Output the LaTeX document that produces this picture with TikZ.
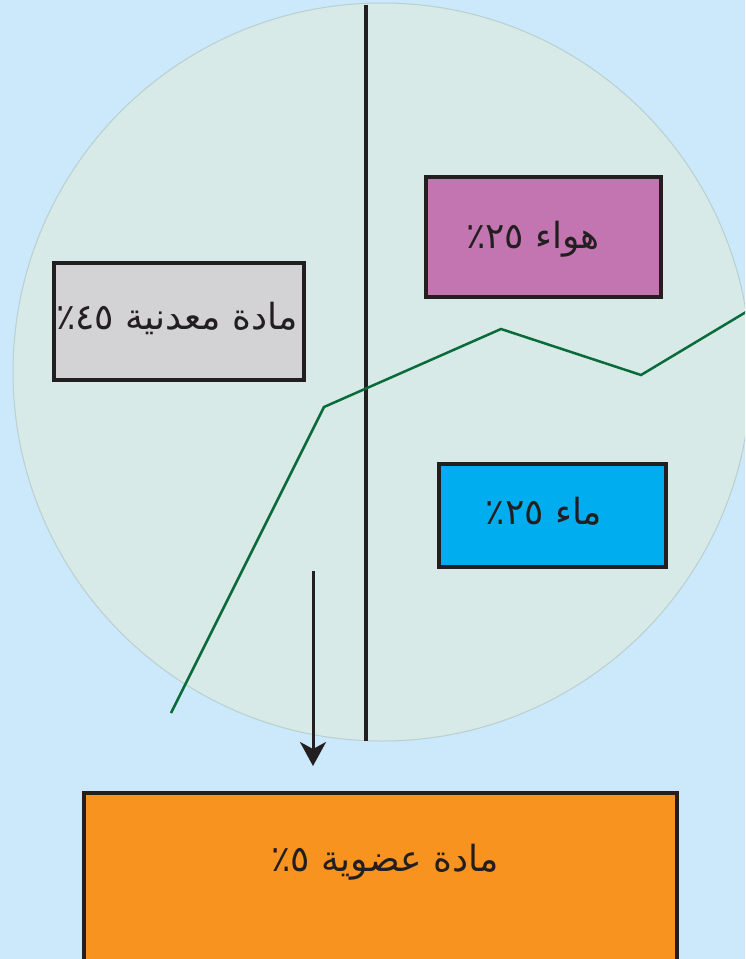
\documentclass[tikz,border=0pt]{standalone}
\usepackage{fontspec}
\usetikzlibrary{arrows.meta}
\TeXXeTstate=1
\newfontfamily\arabicfont[Script=Arabic]{DejaVu Sans}
\definecolor{bgblue}{HTML}{CBE9FA}
\definecolor{circfill}{HTML}{D7EAE7}
\definecolor{circedge}{HTML}{B9CFD0}
\definecolor{inkdark}{HTML}{231F20}
\definecolor{airpink}{HTML}{C275B0}
\definecolor{mingray}{HTML}{D3D3D5}
\definecolor{watercyan}{HTML}{00AEEF}
\definecolor{orgorange}{HTML}{F7931E}
\definecolor{linegreen}{HTML}{0A6B3A}
\tikzset{
  box/.style={draw=inkdark, line width=4pt, inner sep=0pt},
  lbl/.style={font=\arabicfont\fontsize{36}{42}\selectfont, text=inkdark, inner sep=0pt},
}
\begin{document}
\begin{tikzpicture}[x=1pt,y=-1pt]
\clip (0,0) rectangle (745,959);
\fill[bgblue] (0,0) rectangle (745,959);
\filldraw[fill=circfill, draw=circedge, line width=1pt] (382,372) circle[radius=369];
% vertical divider
\coordinate (vtop) at (366,5);
\coordinate (vbot) at (366,741);
\draw[inkdark, line width=3.5pt] (vtop) -- (vbot);
% green line
\coordinate (g1) at (171,713);
\coordinate (g2) at (324,407);
\coordinate (g3) at (501,329);
\coordinate (g4) at (641,375);
\coordinate (g5) at (746,312);
\draw[linegreen, line width=2.5pt, line join=miter] (g1) -- (g2) -- (g3) -- (g4) -- (g5);
% boxes
\node[box, fill=airpink, minimum width=235pt, minimum height=120pt] (air) at (543,236.5) {};
\node[box, fill=mingray, minimum width=250pt, minimum height=117pt] (mineral) at (178.5,321) {};
\node[box, fill=watercyan, minimum width=227pt, minimum height=103pt] (water) at (552,515) {};
\node[box, fill=orgorange, minimum width=593pt, minimum height=190pt] (organic) at (380,888) {};
% labels
\node[lbl] (airtxt) at (533,239) {\beginR هواء ٢٥٪\endR};
\node[lbl] (mintxt) at (177,318) {\beginR مادة معدنية ٤٥٪\endR};
\node[lbl] (watertxt) at (544,511) {\beginR ماء ٢٥٪\endR};
\node[lbl] (orgtxt) at (385,862) {\beginR مادة عضوية ٥٪\endR};
% arrow
\coordinate (atop) at (313,571);
\coordinate (abot) at (313,766);
\draw[inkdark, line width=3pt, -{Stealth[length=24pt, width=26pt, inset=7pt]}] (atop) -- (abot);
\end{tikzpicture}
\end{document}
